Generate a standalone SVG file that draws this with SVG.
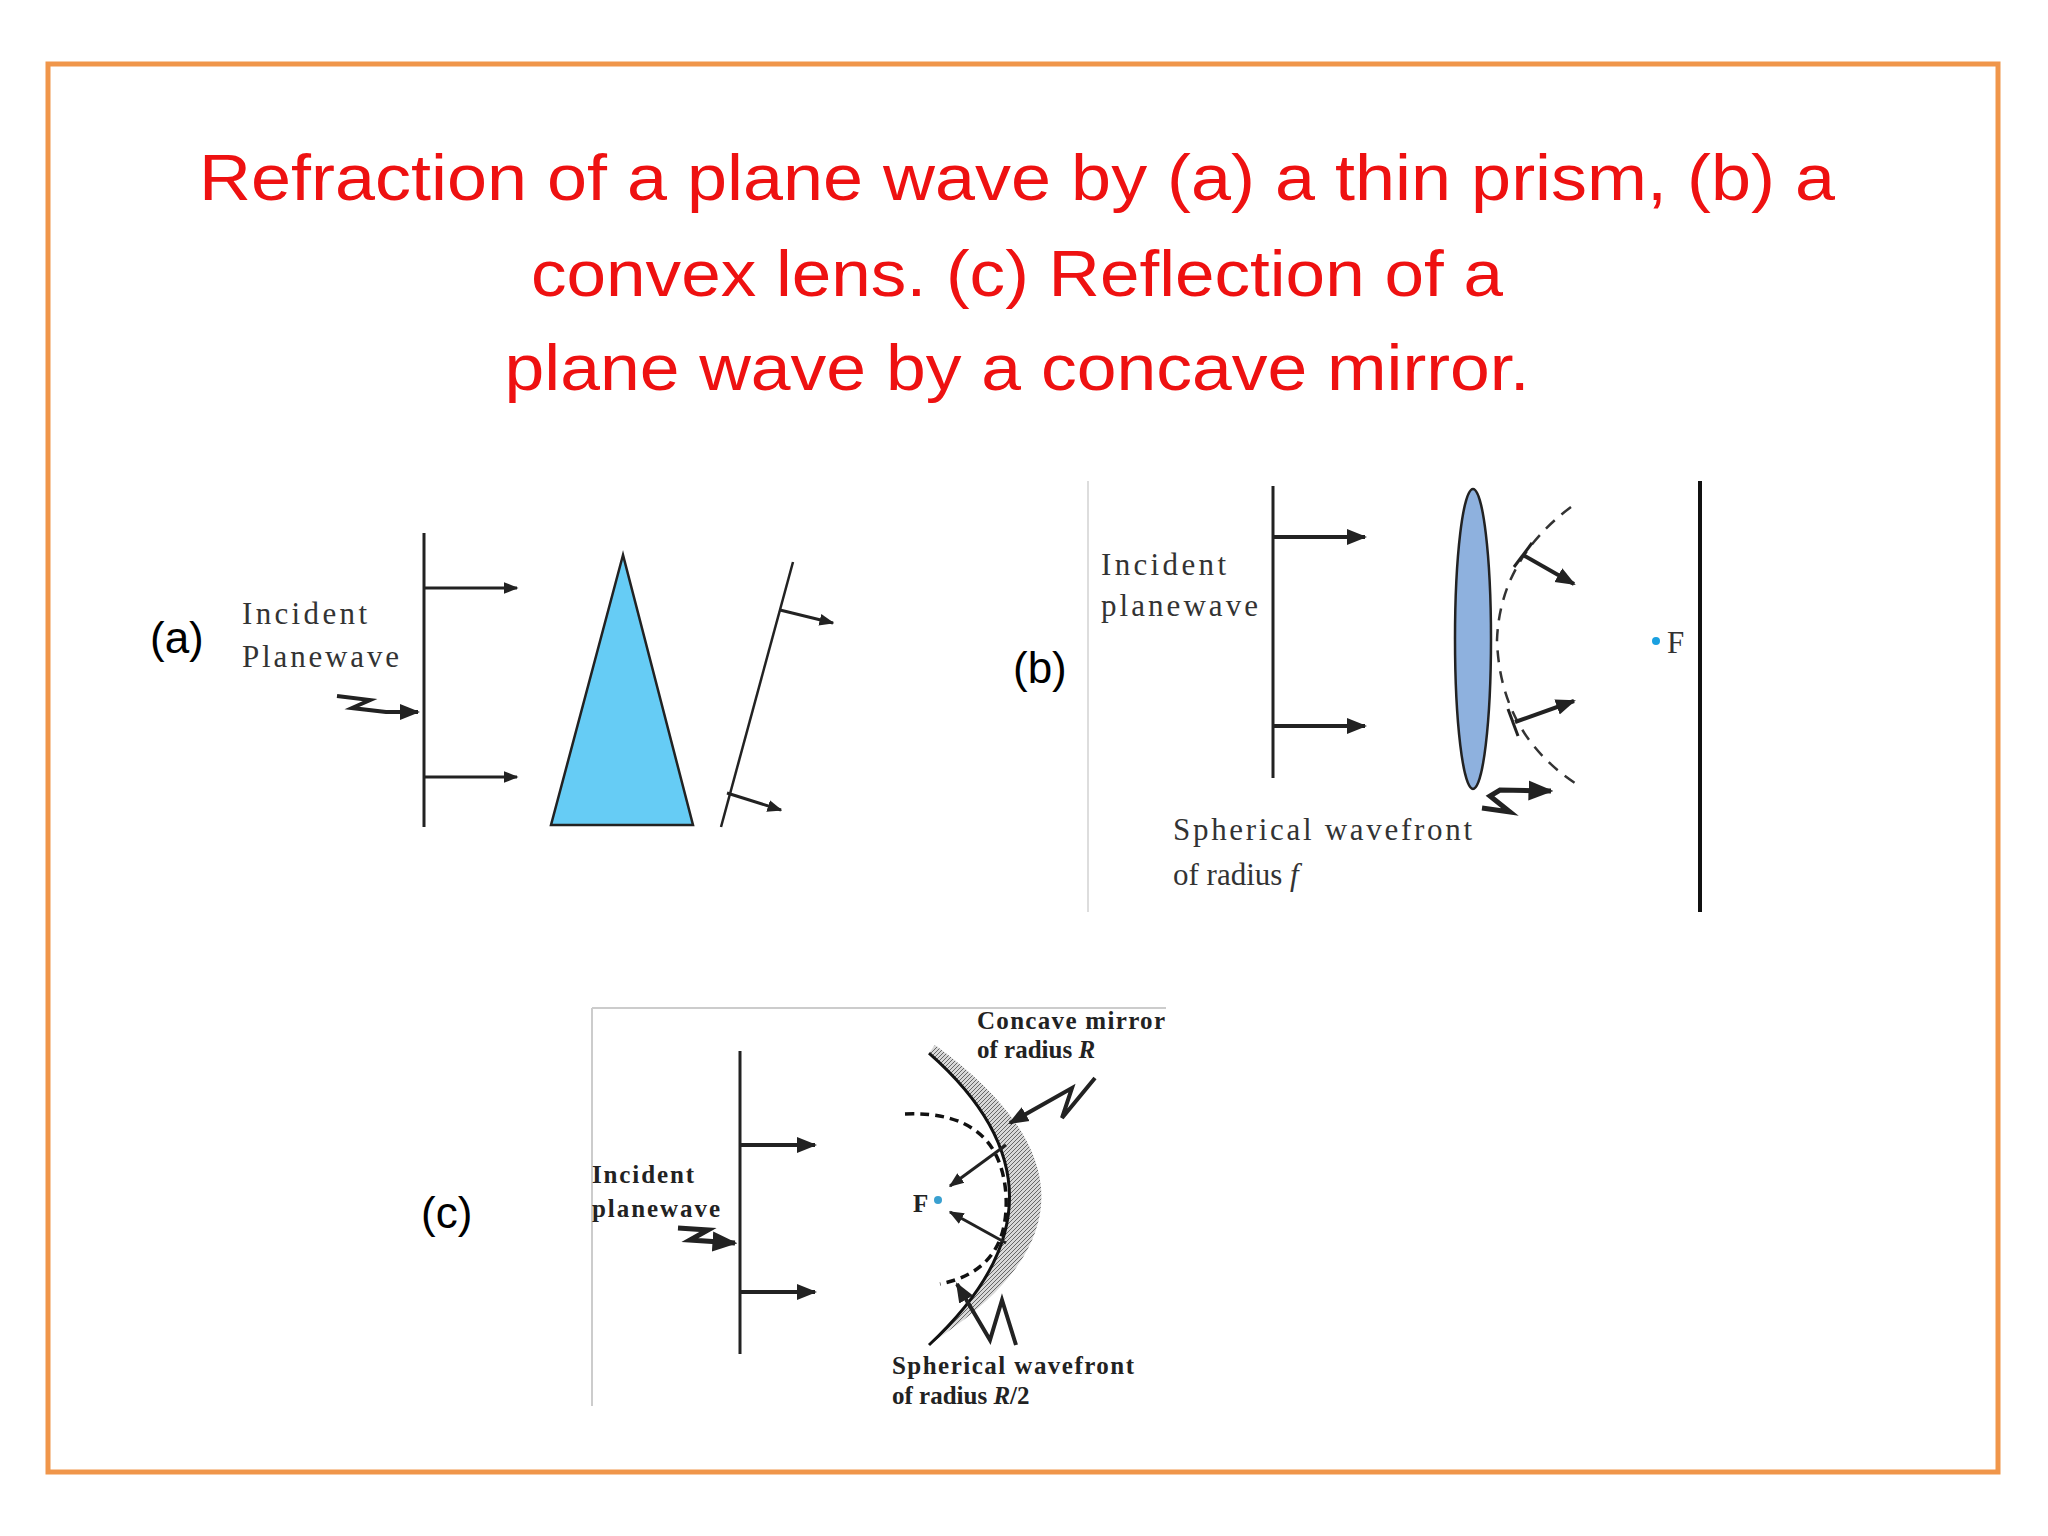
<svg xmlns="http://www.w3.org/2000/svg" width="2048" height="1536" viewBox="0 0 2048 1536">
<defs>
<marker id="ah" viewBox="0 0 10 10" refX="9" refY="5" markerWidth="5" markerHeight="5" orient="auto" markerUnits="strokeWidth"><path d="M0,1 L10,5 L0,9 Z" fill="#222"/></marker>
<pattern id="hatch" width="4" height="4" patternUnits="userSpaceOnUse"><rect width="4" height="4" fill="#d8d8d8"/><path d="M0,4 L4,0" stroke="#666" stroke-width="1"/></pattern>
</defs>
<style>
.title{font-family:"Liberation Sans",Arial,sans-serif;font-size:64px;fill:#ee1111;text-anchor:middle}
.lab{font-family:"Liberation Sans",Arial,sans-serif;font-size:44px;fill:#000}
.s{font-family:"Liberation Serif","Times New Roman",serif;font-size:31px;fill:#333}
.sc{font-family:"Liberation Serif","Times New Roman",serif;font-size:25px;fill:#222;font-weight:bold}
.ln{stroke:#222;stroke-width:3;fill:none}
.ar{stroke:#222;stroke-width:4;fill:none;marker-end:url(#ah)}
</style>
<rect width="2048" height="1536" fill="#fff"/>
<rect x="48" y="64" width="1950" height="1408" fill="none" stroke="#F0964A" stroke-width="5"/>
<g id="title">
<text class="title" x="1017" y="200" textLength="1636" lengthAdjust="spacingAndGlyphs">Refraction of a plane wave by (a) a thin prism, (b) a</text>
<text class="title" x="1017" y="296" textLength="972" lengthAdjust="spacingAndGlyphs">convex lens. (c) Reflection of a</text>
<text class="title" x="1017" y="390" textLength="1025" lengthAdjust="spacingAndGlyphs">plane wave by a concave mirror.</text>
</g>
<g id="diagram-a">
<text class="lab" x="150" y="653">(a)</text>
<text class="s" x="242" y="624" textLength="125">Incident</text>
<text class="s" x="242" y="667" textLength="157">Planewave</text>
<line class="ln" x1="424" y1="533" x2="424" y2="827"/>
<line class="ar" x1="424" y1="588" x2="517" y2="588" style="stroke-width:3"/>
<line class="ar" x1="424" y1="777" x2="517" y2="777" style="stroke-width:3"/>
<path class="ar" d="M337,696 L370,700 L352,708 L386,712 L418,712"/>
<polygon points="623,555 551,825 693,825" fill="#66CCF5" stroke="#222" stroke-width="2.5"/>
<line x1="793" y1="562" x2="721" y2="827" stroke="#222" stroke-width="2.5"/>
<line class="ar" x1="780" y1="610" x2="833" y2="623" style="stroke-width:3"/>
<line class="ar" x1="727" y1="793" x2="781" y2="810" style="stroke-width:3"/>
</g>
<g id="diagram-b">
<line x1="1088" y1="481" x2="1088" y2="912" stroke="#ddd" stroke-width="2"/>
<text class="lab" x="1013" y="683">(b)</text>
<text class="s" x="1101" y="575" textLength="125">Incident</text>
<text class="s" x="1101" y="616" textLength="157">planewave</text>
<line class="ln" x1="1273" y1="486" x2="1273" y2="778"/>
<line class="ar" x1="1273" y1="537" x2="1365" y2="537"/>
<line class="ar" x1="1273" y1="726" x2="1365" y2="726"/>
<ellipse cx="1473" cy="639" rx="18" ry="150" fill="#8EB1DE" stroke="#222" stroke-width="2.5"/>
<path d="M1571,507 Q1500,560 1497,640 Q1500,735 1578,785" fill="none" stroke="#333" stroke-width="2.5" stroke-dasharray="12,9"/>
<line class="ar" x1="1523" y1="555" x2="1574" y2="584"/>
<line x1="1514" y1="567" x2="1532" y2="543" stroke="#222" stroke-width="3"/>
<line class="ar" x1="1515" y1="722" x2="1574" y2="701"/>
<line x1="1508" y1="709" x2="1518" y2="736" stroke="#222" stroke-width="3"/>
<path class="ar" d="M1482,808 L1510,812 L1490,796 L1500,790 L1551,791" style="stroke-width:5"/>
<circle cx="1656" cy="641" r="4" fill="#1aa0e0"/>
<text class="s" x="1667" y="653">F</text>
<line x1="1700" y1="481" x2="1700" y2="912" stroke="#111" stroke-width="4"/>
<text class="s" x="1173" y="840" textLength="299">Spherical wavefront</text>
<text class="s" x="1173" y="885">of radius <tspan font-style="italic">f</tspan></text>
</g>
<g id="diagram-c">
<line x1="592" y1="1008" x2="1166" y2="1008" stroke="#ccc" stroke-width="2"/>
<line x1="592" y1="1008" x2="592" y2="1406" stroke="#ccc" stroke-width="2"/>
<text class="lab" x="421" y="1228">(c)</text>
<text class="sc" x="592" y="1183" textLength="102">Incident</text>
<text class="sc" x="592" y="1217" textLength="128">planewave</text>
<line class="ln" x1="740" y1="1051" x2="740" y2="1354"/>
<line class="ar" x1="740" y1="1145" x2="815" y2="1145"/>
<line class="ar" x1="740" y1="1292" x2="815" y2="1292"/>
<path class="ar" d="M678,1228 L708,1230 L690,1240 L735,1243" style="stroke-width:5"/>
<path d="M929,1053 Q1090,1195 929,1345 L950,1330 Q1140,1195 935,1045 Z" fill="url(#hatch)"/>
<path d="M929,1053 Q1090,1195 929,1345" fill="none" stroke="#111" stroke-width="3"/>
<path d="M905,1114 Q1000,1110 1006,1195 Q1010,1270 940,1284" fill="none" stroke="#111" stroke-width="3.5" stroke-dasharray="9,6"/>
<circle cx="938" cy="1200" r="4" fill="#3aa0d0"/>
<text class="sc" x="913" y="1212">F</text>
<line class="ar" x1="1006" y1="1145" x2="950" y2="1186" style="stroke-width:3"/>
<line class="ar" x1="1006" y1="1243" x2="950" y2="1212" style="stroke-width:3"/>
<path class="ar" d="M1095,1078 L1062,1118 L1072,1088 L1010,1123"/>
<path class="ar" d="M1016,1345 L1002,1300 L990,1340 L957,1284"/>
<text class="sc" x="977" y="1029" textLength="188">Concave mirror</text>
<text class="sc" x="977" y="1058">of radius <tspan font-style="italic">R</tspan></text>
<text class="sc" x="892" y="1374" textLength="242">Spherical wavefront</text>
<text class="sc" x="892" y="1404">of radius <tspan font-style="italic">R</tspan>/2</text>
</g>
</svg>
